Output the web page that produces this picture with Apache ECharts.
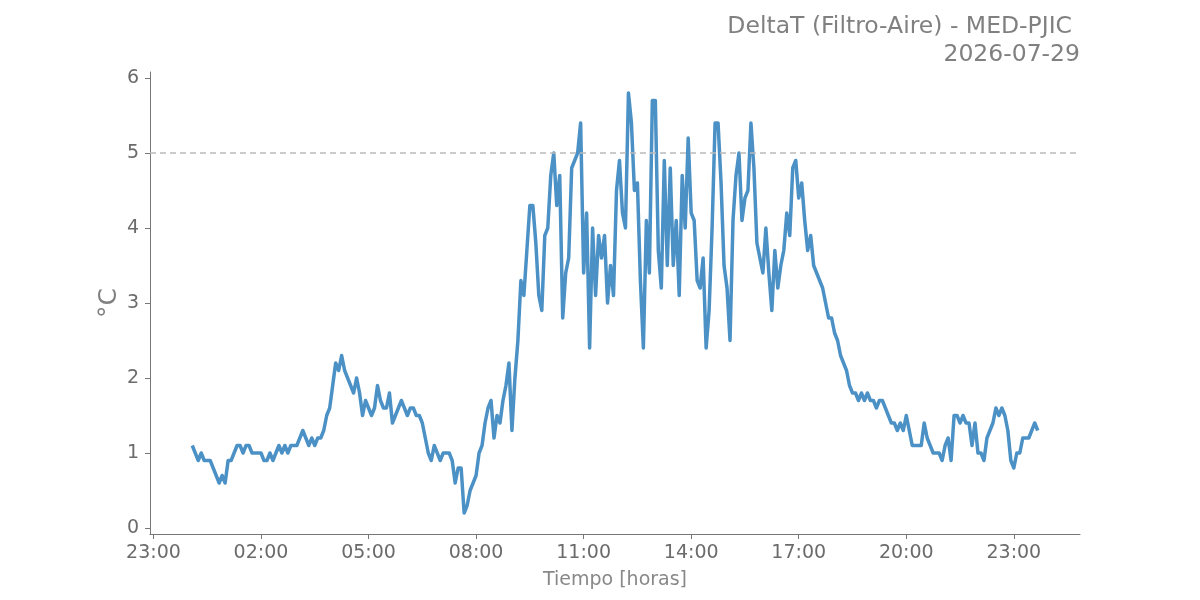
<!DOCTYPE html>
<html>
<head>
<meta charset="utf-8">
<script src="https://cdn.jsdelivr.net/npm/echarts@6/dist/echarts.min.js"></script>
<style>
  html, body { margin: 0; padding: 0; background: #ffffff; }
  #chart { width: 1200px; height: 600px; }
</style>
</head>
<body>
<div id="chart"></div>
<script>
// ---- Data ----
const chartTitle = 'DeltaT (Filtro-Aire) - MED-PJIC';
const chartDate = '2026-07-29';
const xAxisTitle = 'Tiempo [horas]';
const yAxisTitle = '°C';

// samples every 5 minutes, first sample at 00:05
const startMinute = 5;
const stepMinutes = 5;

// 00:05 - 03:40
const valuesNight = [
  1.1, 1.0, 0.9, 1.0, 0.9, 0.9, 0.9, 0.8, 0.7, 0.6,
  0.7, 0.6, 0.9, 0.9, 1.0, 1.1, 1.1, 1.0, 1.1, 1.1,
  1.0, 1.0, 1.0, 1.0, 0.9, 0.9, 1.0, 0.9, 1.0, 1.1,
  1.0, 1.1, 1.0, 1.1, 1.1, 1.1, 1.2, 1.3, 1.2, 1.1,
  1.2, 1.1, 1.2, 1.2
];
// 03:45 - 08:55
const valuesMorning = [
  1.3, 1.5, 1.6, 1.9, 2.2, 2.1, 2.3, 2.1, 2.0, 1.9,
  1.8, 2.0, 1.8, 1.5, 1.7, 1.6, 1.5, 1.6, 1.9, 1.7,
  1.6, 1.6, 1.8, 1.4, 1.5, 1.6, 1.7, 1.6, 1.5, 1.6,
  1.6, 1.5, 1.5, 1.4, 1.2, 1.0, 0.9, 1.1, 1.0, 0.9,
  1.0, 1.0, 1.0, 0.9, 0.6, 0.8, 0.8, 0.2, 0.3, 0.5,
  0.6, 0.7, 1.0, 1.1, 1.4, 1.6, 1.7, 1.2, 1.5, 1.4,
  1.7, 1.9, 2.2, 1.3
];
// 09:00 - 17:25
const valuesMidday = [
  2.0, 2.5, 3.3, 3.1, 3.7, 4.3, 4.3, 3.8, 3.1, 2.9,
  3.9, 4.0, 4.7, 5.0, 4.3, 4.7, 2.8, 3.4, 3.6, 4.8,
  4.9, 5.0, 5.4, 3.4, 4.2, 2.4, 4.0, 3.1, 3.9, 3.6,
  3.9, 3.0, 3.5, 3.1, 4.5, 4.9, 4.2, 4.0, 5.8, 5.4,
  4.5, 4.6, 3.3, 2.4, 4.1, 3.4, 5.7, 5.7, 3.7, 3.2,
  4.9, 3.5, 4.8, 3.5, 4.1, 3.1, 4.7, 4.0, 5.2, 4.2,
  4.1, 3.3, 3.2, 3.6, 2.4, 2.9, 4.0, 5.4, 5.4, 4.6,
  3.5, 3.2, 2.5, 4.1, 4.7, 5.0, 4.1, 4.4, 4.5, 5.4,
  4.8, 3.8, 3.6, 3.4, 4.0, 3.4, 2.9, 3.7, 3.2, 3.5,
  3.7, 4.2, 3.9, 4.8, 4.9, 4.4, 4.6, 4.1, 3.7, 3.9,
  3.5, 3.4
];
// 17:30 - 23:40
const valuesEvening = [
  3.3, 3.2, 3.0, 2.8, 2.8, 2.6, 2.5, 2.3, 2.2, 2.1,
  1.9, 1.8, 1.8, 1.7, 1.8, 1.7, 1.8, 1.7, 1.7, 1.6,
  1.7, 1.7, 1.6, 1.5, 1.4, 1.4, 1.3, 1.4, 1.3, 1.5,
  1.3, 1.1, 1.1, 1.1, 1.1, 1.4, 1.2, 1.1, 1.0, 1.0,
  1.0, 0.9, 1.1, 1.2, 0.9, 1.5, 1.5, 1.4, 1.5, 1.4,
  1.4, 1.1, 1.4, 1.0, 1.0, 0.9, 1.2, 1.3, 1.4, 1.6,
  1.5, 1.6, 1.5, 1.3, 0.9, 0.8, 1.0, 1.0, 1.2, 1.2,
  1.2, 1.3, 1.4, 1.3
];
const thresholdValue = 5;
const xTickHours = [-1, 2, 5, 8, 11, 14, 17, 20, 23];
const yTickValues = [0, 1, 2, 3, 4, 5, 6];

// ---- Build series ----
const allValues = valuesNight.concat(valuesMorning, valuesMidday, valuesEvening);
const seriesData = allValues.map((v, i) => [(startMinute + i * stepMinutes) / 60, v]);

// matplotlib-like 5% margins
const xs = seriesData.map(d => d[0]);
const xMinData = Math.min(...xs), xMaxData = Math.max(...xs);
const xPad = 0.05 * (xMaxData - xMinData);
const yMinData = Math.min(...allValues), yMaxData = Math.max(...allValues);
const yPad = 0.05 * (yMaxData - yMinData);

function hourLabel(h) {
  const hh = ((Math.round(h) % 24) + 24) % 24;
  return (hh < 10 ? '0' : '') + hh + ':00';
}

const chart = echarts.init(document.getElementById('chart'), null, { renderer: 'canvas' });
const axisGray = '#6b6b6b';
const font = 'DejaVu Sans';

chart.setOption({
  animation: false,
  backgroundColor: '#ffffff',
  textStyle: { fontFamily: font },
  grid: { left: 150, top: 72, width: 930, height: 462, containLabel: false },
  graphic: [
    { type: 'text', right: 128, top: 15,
      style: { text: chartTitle, font: '23.5px "DejaVu Sans"', fill: '#808080', textAlign: 'right' } },
    { type: 'text', right: 120, top: 43,
      style: { text: chartDate, font: '23.5px "DejaVu Sans"', fill: '#808080', textAlign: 'right' } }
  ],
  xAxis: {
    type: 'value',
    min: xMinData - xPad,
    max: xMaxData + xPad,
    name: xAxisTitle,
    nameLocation: 'middle',
    nameGap: 37,
    nameTextStyle: { color: '#888888', fontSize: 19, fontFamily: font },
    splitLine: { show: false },
    axisLine: { show: true, onZero: false, lineStyle: { color: '#777777', width: 1 } },
    axisTick: { show: true, inside: false, length: 5, customValues: xTickHours, lineStyle: { color: '#777777' } },
    axisLabel: { customValues: xTickHours, formatter: hourLabel, color: axisGray, fontSize: 19, margin: 10, fontFamily: font }
  },
  yAxis: {
    type: 'value',
    min: yMinData - yPad,
    max: yMaxData + yPad,
    name: yAxisTitle,
    nameLocation: 'middle',
    nameRotate: 90,
    nameGap: 28,
    nameMoveOverlap: false,
    nameTextStyle: { color: '#808080', fontSize: 25, fontFamily: font },
    splitLine: { show: false },
    axisLine: { show: true, onZero: false, lineStyle: { color: '#777777', width: 1 } },
    axisTick: { show: true, inside: false, length: 5, customValues: yTickValues, lineStyle: { color: '#777777' } },
    axisLabel: { customValues: yTickValues, formatter: v => String(Math.round(v)), color: axisGray, fontSize: 19, margin: 11, fontFamily: font }
  },
  series: [{
    type: 'line',
    data: seriesData,
    showSymbol: false,
    symbol: 'none',
    lineStyle: { color: '#4b91c5', width: 3.5, join: 'round' },
    itemStyle: { color: '#4b91c5' },
    markLine: {
      silent: true,
      symbol: 'none',
      label: { show: false },
      lineStyle: { color: '#bbbbbb', type: [6, 4], width: 1.5 },
      data: [{ yAxis: thresholdValue }]
    }
  }]
});
</script>
</body>
</html>
